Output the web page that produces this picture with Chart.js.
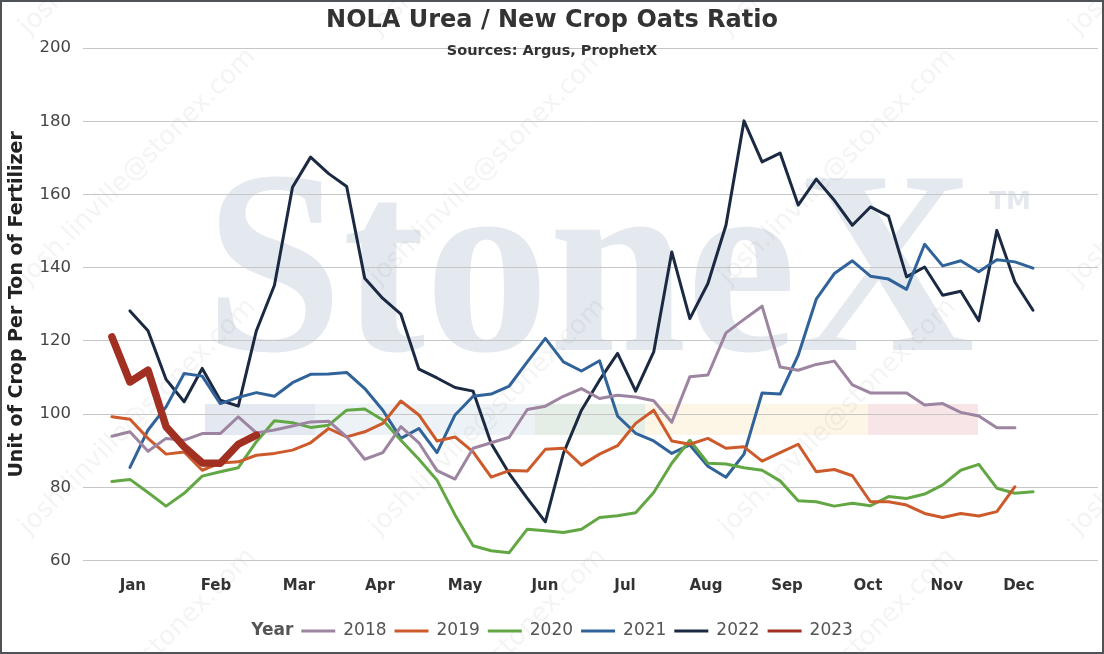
<!DOCTYPE html>
<html>
<head>
<meta charset="utf-8">
<title>NOLA Urea / New Crop Oats Ratio</title>
<script src="https://cdn.jsdelivr.net/npm/chart.js@4.4.0/dist/chart.umd.min.js"></script>
<style>
  html, body { margin: 0; padding: 0; background: #fff; }
  #wrap { width: 1104px; height: 654px; box-sizing: border-box; border: 2px solid #4f5358; }
  canvas { display: block; }
</style>
</head>
<body>
<div id="wrap"><canvas id="chart" width="1100" height="650"></canvas></div>
<script>
// month labels and where they sit on the weekly axis
var months = ['Jan', 'Feb', 'Mar', 'Apr', 'May', 'Jun', 'Jul', 'Aug', 'Sep', 'Oct', 'Nov', 'Dec'];
var monthWeek = [1.16, 5.76, 10.36, 14.84, 19.55, 23.98, 28.41, 32.89, 37.38, 41.86, 46.23, 50.22];

var years = ['2018', '2019', '2020', '2021', '2022', '2023'];

// weekly ratio, week 0..51
var y2018 = [94.0, 95.2, 89.9, 93.4, 92.9, 94.7, 94.7, 99.3, 94.9, 95.7,
             96.8, 97.9, 98.1, 93.8, 87.7, 89.5, 96.6, 92.2, 84.6, 82.3,
             90.7, 92.2, 93.7, 101.3, 102.2, 104.9, 107.0, 104.3, 105.2, 104.7,
             103.7, 97.8, 110.2, 110.7, 122.2, 125.9, 129.5, 112.9, 112.0, 113.6,
             114.5, 108.0, 105.8, 105.8, 105.8, 102.5, 102.9, 100.5, 99.5, 96.3,
             96.3, null];
var y2019 = [99.3, 98.6, 93.4, 89.1, 89.7, 84.7, 86.7, 87.0, 88.8, 89.3,
             90.2, 92.2, 96.1, 93.8, 95.2, 97.5, 103.6, 99.8, 92.7, 93.8,
             89.7, 82.8, 84.6, 84.5, 90.4, 90.7, 86.1, 89.1, 91.4, 97.5,
             101.1, 92.7, 91.8, 93.4, 90.7, 91.1, 87.2, 89.5, 91.8, 84.3,
             84.9, 83.2, 76.1, 76.1, 75.2, 72.9, 71.8, 72.9, 72.2, 73.4,
             80.2, null];
var y2020 = [81.6, 82.2, 78.6, 74.9, 78.4, 83.1, 84.3, 85.4, 92.5, 98.2,
             97.7, 96.4, 97.0, 101.1, 101.4, 98.4, 92.9, 87.7, 82.0, 72.5,
             64.1, 62.7, 62.2, 68.6, 68.2, 67.7, 68.6, 71.8, 72.3, 73.1,
             78.6, 86.6, 92.9, 86.6, 86.4, 85.4, 84.7, 81.8, 76.4, 76.1,
             74.9, 75.7, 75.0, 77.5, 77.0, 78.2, 80.7, 84.7, 86.3, 79.8,
             78.4, 78.8];
var y2021 = [null, 85.5, 95.7, 102.0, 111.1, 110.4, 102.9, 104.6, 105.9, 104.9,
             108.6, 110.9, 111.0, 111.4, 107.0, 101.1, 93.4, 96.1, 89.5, 99.8,
             104.9, 105.5, 107.7, 114.3, 120.7, 114.3, 111.8, 114.6, 99.5, 94.8,
             92.7, 89.3, 91.6, 85.8, 82.8, 89.1, 105.8, 105.5, 116.1, 131.4,
             138.4, 141.9, 137.7, 136.9, 134.1, 146.4, 140.5, 141.9, 138.9, 142.2,
             141.6, 139.9];
var y2022 = [null, 128.2, 122.8, 109.5, 103.4, 112.5, 103.8, 102.2, 122.8, 135.2,
             162.0, 170.2, 165.7, 162.2, 137.1, 131.6, 127.3, 112.3, 109.9, 107.3,
             106.3, 92.0, 83.8, 77.0, 70.6, 89.3, 101.1, 109.3, 116.6, 106.3,
             117.0, 144.3, 126.1, 135.7, 151.6, 180.1, 168.9, 171.3, 157.1, 164.2,
             158.4, 151.6, 156.6, 154.1, 137.5, 140.2, 132.5, 133.6, 125.5, 150.2,
             136.1, 128.4];
var y2023 = [121.1, 108.8, 112.0, 96.6, 91.1, 86.7, 86.6, 91.8, 94.3];

var yearValues = [y2018, y2019, y2020, y2021, y2022, y2023];
var yearColors = ['#9d84a0', '#cd5a2b', '#62a744', '#306399', '#1b2a42', '#a13023'];

var FONT = '"DejaVu Sans", Verdana, sans-serif';

function toPoints(arr) {
    var out = [];
    for (var i = 0; i < arr.length; i++) {
        out.push({x: i, y: arr[i]});
    }
    return out;
}

var datasets = [];
for (var d = 0; d < years.length; d++) {
    var last = d == years.length - 1;
    datasets.push({
        label: years[d],
        data: toPoints(yearValues[d]),
        borderColor: yearColors[d],
        backgroundColor: yearColors[d],
        borderWidth: last ? 7.5 : 3,
        pointRadius: 0,
        tension: 0,
        borderJoinStyle: 'round',
        borderCapStyle: 'round',
        spanGaps: false,
        order: last ? 0 : 1
    });
}

// faded logo + e-mail watermark behind the plot
var backdrop = {
    id: 'backdrop',
    beforeDraw: function (chart) {
        var ctx = chart.ctx;
        ctx.save();
        ctx.fillStyle = '#ffffff';
        ctx.fillRect(0, 0, chart.width, chart.height);

        var bars = [[203, 313, '#e4e9f1'], [313, 533, '#edf2f7'], [533, 643, '#e4eee7'],
                    [643, 866, '#fdf5e6'], [866, 976, '#f7e5e8']];
        bars.forEach(function (b) {
            ctx.fillStyle = b[2];
            ctx.fillRect(b[0], 402, b[1] - b[0], 31);
        });

        ctx.font = 'bold 262px "Liberation Serif", serif';
        var w = ctx.measureText('StoneX').width;
        ctx.save();
        ctx.translate(203, 348);
        ctx.scale(770 / w, 1);
        ctx.fillStyle = '#e4e8ef';
        ctx.textBaseline = 'alphabetic';
        ctx.fillText('StoneX', 0, 0);
        ctx.restore();
        ctx.fillStyle = '#e4e8ef';
        ctx.font = 'bold 25px ' + FONT;
        ctx.fillText('TM', 987, 207);

        ctx.font = '26px ' + FONT;
        ctx.fillStyle = 'rgba(110,110,110,0.075)';
        ctx.textAlign = 'center';
        ctx.textBaseline = 'middle';
        for (var r = -1; r <= 3; r++) {
            for (var k = -1; k <= 3; k++) {
                ctx.save();
                ctx.translate(136 + 350 * k, 165 + 250 * r);
                ctx.rotate(-Math.PI / 4);
                ctx.fillText('josh.linville@stonex.com', 0, 0);
                ctx.restore();
            }
        }
        ctx.restore();
    }
};

// title, subtitle and the inline legend
var decor = {
    id: 'decor',
    afterDraw: function (chart) {
        var ctx = chart.ctx;
        var cx = chart.width / 2;
        ctx.save();
        ctx.textAlign = 'center';
        ctx.textBaseline = 'alphabetic';
        ctx.fillStyle = '#333333';
        ctx.font = 'bold 24px ' + FONT;
        ctx.fillText('NOLA Urea / New Crop Oats Ratio', cx, 25);
        ctx.font = 'bold 14.5px ' + FONT;
        ctx.fillText('Sources: Argus, ProphetX', cx, 53);

        // legend
        var sw = 34, gap = 8;
        ctx.font = 'bold 17px ' + FONT;
        var total = ctx.measureText('Year').width;
        ctx.font = '17px ' + FONT;
        var ds = chart.data.datasets;
        for (var i = 0; i < ds.length; i++) {
            total += gap + sw + gap + ctx.measureText(ds[i].label).width;
        }
        var x = cx - total / 2;
        var y = 629;
        ctx.textAlign = 'left';
        ctx.textBaseline = 'middle';
        ctx.fillStyle = '#555555';
        ctx.font = 'bold 17px ' + FONT;
        ctx.fillText('Year', x, y);
        x += ctx.measureText('Year').width;
        ctx.font = '17px ' + FONT;
        for (var j = 0; j < ds.length; j++) {
            x += gap;
            ctx.strokeStyle = ds[j].borderColor;
            ctx.lineWidth = 3;
            ctx.beginPath();
            ctx.moveTo(x, y);
            ctx.lineTo(x + sw, y);
            ctx.stroke();
            x += sw + gap;
            ctx.fillStyle = '#555555';
            ctx.fillText(ds[j].label, x, y);
            x += ctx.measureText(ds[j].label).width;
        }
        ctx.restore();
    }
};

var chart = new Chart(document.getElementById('chart'), {
    type: 'line',
    data: {datasets: datasets},
    plugins: [backdrop, decor],
    options: {
        responsive: false,
        animation: false,
        layout: {padding: {left: 0, right: 4, top: 46, bottom: 0}},
        plugins: {
            legend: {display: false},
            title: {display: false},
            tooltip: {enabled: false}
        },
        scales: {
            x: {
                type: 'linear',
                min: -1.6,
                max: 54.6,
                grid: {display: false, drawTicks: false},
                border: {display: false},
                afterBuildTicks: function (scale) {
                    scale.ticks = monthWeek.map(function (v) { return {value: v}; });
                },
                afterFit: function (scale) { scale.height = 91.3; },
                ticks: {
                    autoSkip: false,
                    maxRotation: 0,
                    padding: 16,
                    color: '#333333',
                    font: {family: FONT, size: 15, weight: 'bold'},
                    callback: function (v, i) { return months[i]; }
                }
            },
            y: {
                min: 60,
                max: 200,
                afterFit: function (scale) { scale.width = 81; },
                grid: {color: '#c6c6c6', lineWidth: 1, drawTicks: false},
                border: {display: false},
                ticks: {
                    stepSize: 20,
                    padding: 12,
                    color: '#444444',
                    font: {family: FONT, size: 16.5}
                },
                title: {
                    display: true,
                    text: 'Unit of Crop Per Ton of Fertilizer',
                    color: '#222222',
                    font: {family: FONT, size: 19, weight: 'bold'},
                    padding: {top: 4, bottom: 0}
                }
            }
        }
    }
});
</script>
</body>
</html>
